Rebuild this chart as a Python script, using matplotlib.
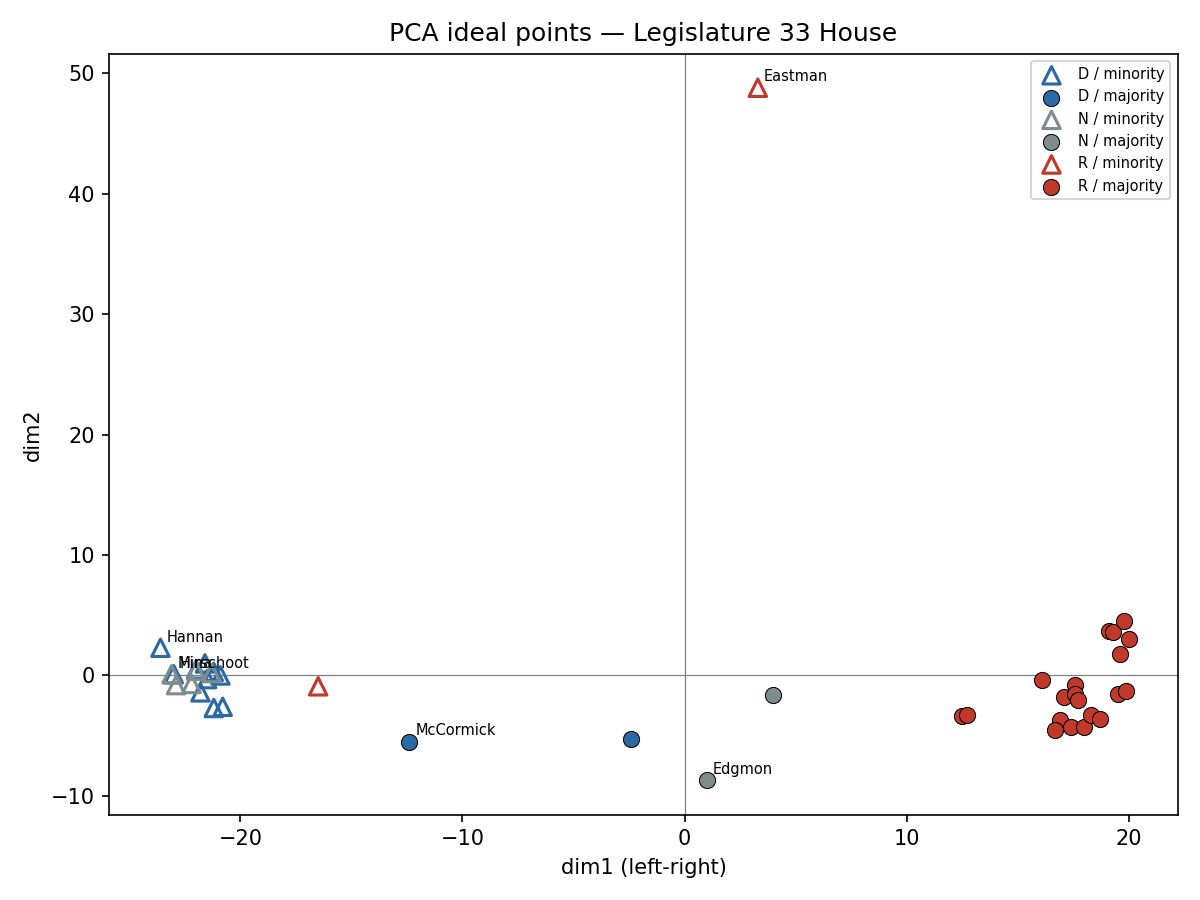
import matplotlib.pyplot as plt

# ideal points
d_min_x = [-23.6, -23.0, -21.6, -21.2, -20.9, -21.8, -21.2, -20.8, -22.0, -21.5]
d_min_y = [2.3, 0.1, 1.0, 0.3, 0.0, -1.4, -2.7, -2.6, 0.5, -0.3]
d_min_lab = ['Hannan', 'Hirschoot', '', '', '', '', '', '', '', '']

d_maj_x = [-12.4, -2.4]
d_maj_y = [-5.5, -5.3]
d_maj_lab = ['McCormick', '']

n_min_x = [-23.1, -22.9, -22.2, -22.0, -21.3]
n_min_y = [0.1, -0.8, -0.7, 0.4, 0.2]
n_min_lab = ['Mina', '', '', '', '']

n_maj_x = [1.0, 4.0]
n_maj_y = [-8.7, -1.6]
n_maj_lab = ['Edgmon', '']

r_min_x = [3.3, -16.5]
r_min_y = [48.8, -0.9]
r_min_lab = ['Eastman', '']

r_maj_x = [16.1, 17.6, 17.1, 17.6, 17.7, 16.9, 16.7, 17.4, 18.0, 18.3, 18.7,
           19.5, 19.9, 19.1, 19.3, 19.8, 20.0, 19.6, 12.5, 12.7]
r_maj_y = [-0.4, -0.8, -1.8, -1.5, -2.0, -3.7, -4.5, -4.3, -4.3, -3.3, -3.6,
           -1.5, -1.3, 3.7, 3.6, 4.5, 3.0, 1.8, -3.4, -3.3]

colors = {'D': '#2c6aa3', 'N': '#7f8c8d', 'R': '#c0392b'}

groups = [
    ('D', 'minority', d_min_x, d_min_y, d_min_lab),
    ('D', 'majority', d_maj_x, d_maj_y, d_maj_lab),
    ('N', 'minority', n_min_x, n_min_y, n_min_lab),
    ('N', 'majority', n_maj_x, n_maj_y, n_maj_lab),
    ('R', 'minority', r_min_x, r_min_y, r_min_lab),
    ('R', 'majority', r_maj_x, r_maj_y, [''] * len(r_maj_x)),
]

fig, ax = plt.subplots(figsize=(8, 6), dpi=150)
ax.axhline(0, color='gray', linewidth=0.6, zorder=0)
ax.axvline(0, color='gray', linewidth=0.6, zorder=0)

for party, status, xs, ys, labs in groups:
    c = colors[party]
    if status == 'minority':
        ax.scatter(xs, ys, marker='^', s=70, facecolors='none', edgecolors=c,
                   linewidths=1.5, label=f'{party} / {status}')
    else:
        ax.scatter(xs, ys, marker='o', s=60, color=c, edgecolors='black',
                   linewidths=0.5, label=f'{party} / {status}')
    for x, y, lab in zip(xs, ys, labs):
        if lab:
            ax.annotate(lab, (x, y), xytext=(3, 3), textcoords='offset points',
                        fontsize=7)

ax.set_xlim(-25.9, 22.2)
ax.set_ylim(-11.55, 51.6)
ax.set_xlabel('dim1 (left-right)')
ax.set_ylabel('dim2')
ax.set_title('PCA ideal points — Legislature 33 House')
ax.legend(loc='upper right', fontsize=7)
plt.tight_layout()
plt.savefig('out.png')
